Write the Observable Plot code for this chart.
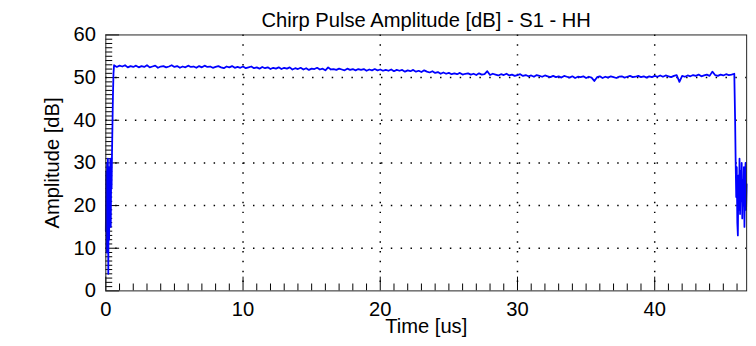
<!DOCTYPE html>
<html><head><meta charset="utf-8">
<script src="https://cdn.jsdelivr.net/npm/d3@7"></script>
<script src="https://cdn.jsdelivr.net/npm/@observablehq/plot@0.6"></script>
<style>
body{margin:0;background:#fff;overflow:hidden}
#chart{width:756px;height:346px;overflow:hidden}
</style>
</head><body><div id="chart"></div>
<script>
const title = "Chirp Pulse Amplitude [dB] - S1 - HH";
const xLabel = "Time [us]";
const yLabel = "Amplitude [dB]";
const xMajor = [0, 10, 20, 30, 40];
const yMajor = [0, 10, 20, 30, 40, 50, 60];
const xGrid = [10, 20, 30, 40];
const yGrid = [10, 20, 30, 40, 50];
const xMinor = [1,2,3,4,5,6,7,8,9,11,12,13,14,15,16,17,18,19,21,22,23,24,25,26,27,28,29,31,32,33,34,35,36,37,38,39,41,42,43,44,45,46];
const yMinor = [1,2,3,4,5,6,7,8,9,11,12,13,14,15,16,17,18,19,21,22,23,24,25,26,27,28,29,31,32,33,34,35,36,37,38,39,41,42,43,44,45,46,47,48,49,51,52,53,54,55,56,57,58,59];

// leading edge (noisy part before the pulse plateau)
const riseT = [0, 0.03, 0.06, 0.09, 0.12, 0.15, 0.18, 0.21, 0.24, 0.27, 0.30, 0.33, 0.36, 0.39, 0.42, 0.45, 0.48, 0.52, 0.56];
const riseA = [14, 28, 9, 30, 17, 31, 4, 26, 12, 29, 20, 31, 15, 28, 24, 32, 38, 46, 51];

// plateau: samples every 0.2 us starting at 0.6 us
const plateauStart = 0.6;
const plateauStep = 0.2;
const plateauA = [
 52.9,52.5,52.8,52.6,52.9, 52.4,52.7,52.5,52.8,52.4, 52.7,52.5,52.9,52.4,52.6, 52.8,52.3,52.6,52.7,52.4,
 52.6,52.9,52.5,52.7,52.3, 52.6,52.4,52.8,52.5,52.6, 52.3,52.7,52.4,52.8,52.5, 52.6,52.3,52.5,52.7,52.4,
 52.2,52.6,52.4,52.7,52.3, 52.5,52.3,52.6,52.2,52.4, 52.6,52.2,52.4,52.1,52.5, 52.2,52.4,52.0,52.3,52.1,
 52.4,52.0,52.3,52.1,52.4, 51.9,52.2,52.0,52.3,51.9, 52.2,51.8,52.1,52.0,52.3, 51.9,52.1,51.7,52.4,51.9,
 52.0,51.8,52.1,51.9,51.7, 52.1,51.8,52.0,51.7,52.0, 51.8,52.0,51.6,51.9,51.7, 52.0,51.7,51.9,51.6,51.8,
 51.6,51.9,51.5,51.8,51.6, 51.8,51.4,51.7,51.5,51.8, 51.4,51.6,51.3,51.7,51.4, 51.2,51.5,51.1,51.3,50.9,
 51.2,50.9,51.1,50.8,51.0, 50.8,51.1,50.7,50.9,51.0, 50.7,50.9,50.6,51.0,50.7, 50.8,51.5,50.6,50.9,50.7,
 50.5,50.8,50.6,50.9,50.5, 50.7,50.4,50.6,50.8,50.4, 50.6,50.3,50.5,50.2,50.6, 50.4,50.2,50.5,50.3,50.1,
 50.4,50.1,50.3,50.0,50.4, 50.2,50.0,50.3,49.9,50.2, 50.1,50.3,49.9,50.2,50.0, 49.2,50.1,50.3,49.9,50.2,
 50.0,50.3,50.1,49.9,50.2, 50.3,50.0,50.2,50.4,50.1, 50.2,50.4,50.1,50.3,50.0, 50.3,50.1,50.4,50.2,50.5,
 50.2,50.5,50.3,50.1,50.4, 50.6,49.0,50.4,50.2,50.5, 50.3,50.6,50.4,50.7,50.3, 50.5,50.7,50.4,51.4,50.6,
 50.4,50.7,50.5,50.8,50.6, 50.7,50.9
];

// trailing edge after the pulse ends
const tailT = [45.86, 45.9, 45.94, 45.98, 46.02, 46.06, 46.1, 46.14, 46.18, 46.22, 46.26, 46.3, 46.34, 46.38, 46.42, 46.46, 46.5, 46.54, 46.58, 46.62, 46.66, 46.7];
const tailA = [40, 30, 22, 29, 16, 13, 27, 19, 31, 18, 28, 21, 30, 17, 26, 20, 29, 15, 24, 30, 19, 25];

const data = [
  ...riseT.map((t, i) => ({t, a: riseA[i]})),
  ...plateauA.map((a, i) => ({t: plateauStart + plateauStep * i, a})),
  ...tailT.map((t, i) => ({t, a: tailA[i]}))
];

const FONT = 20.5;
const W = 768, H = 346, ML = 107, MR = 10, MT = 35, MB = 51;
const FW = W - ML - MR, FH = H - MT - MB;
const chart = Plot.plot({
  width: W,
  height: H,
  marginLeft: ML,
  marginRight: MR,
  marginTop: MT,
  marginBottom: MB,
  style: {fontFamily: "'Liberation Sans', Arial, Helvetica, sans-serif", background: "#fff", color: "#000"},
  x: {domain: [0, 46.7]},
  y: {domain: [0, 60]},
  marks: [
    Plot.gridX(xGrid, {stroke: "#000", strokeOpacity: 1, strokeWidth: 1.5, strokeDasharray: "1.5,8.5"}),
    Plot.gridY(yGrid, {stroke: "#000", strokeOpacity: 1, strokeWidth: 1.5, strokeDasharray: "1.5,8.5"}),
    Plot.ruleX(xMinor, {stroke: "#000", insetTop: FH - 7}),
    Plot.ruleX(xMajor, {stroke: "#000", insetTop: FH - 14}),
    Plot.ruleY(yMinor, {stroke: "#000", insetRight: FW - 7}),
    Plot.ruleY(yMajor, {stroke: "#000", insetRight: FW - 14}),
    Plot.axisX(xMajor, {tickSize: 0, tickPadding: 11, fontSize: FONT, label: null}),
    Plot.axisY(yMajor, {tickSize: 0, tickPadding: 10, fontSize: FONT, label: null}),
    Plot.line(data, {x: "t", y: "a", stroke: "#0000ff", strokeWidth: 1.8}),
    Plot.frame({stroke: "#222"}),
    Plot.text([title], {frameAnchor: "top", dy: -23, fontSize: FONT}),
    Plot.text([xLabel], {frameAnchor: "bottom", dy: 43, fontSize: FONT}),
    Plot.text([yLabel], {frameAnchor: "left", dx: -54, rotate: -90, textAnchor: "middle", fontSize: FONT})
  ]
});
document.getElementById("chart").appendChild(chart);
</script>
</body></html>
